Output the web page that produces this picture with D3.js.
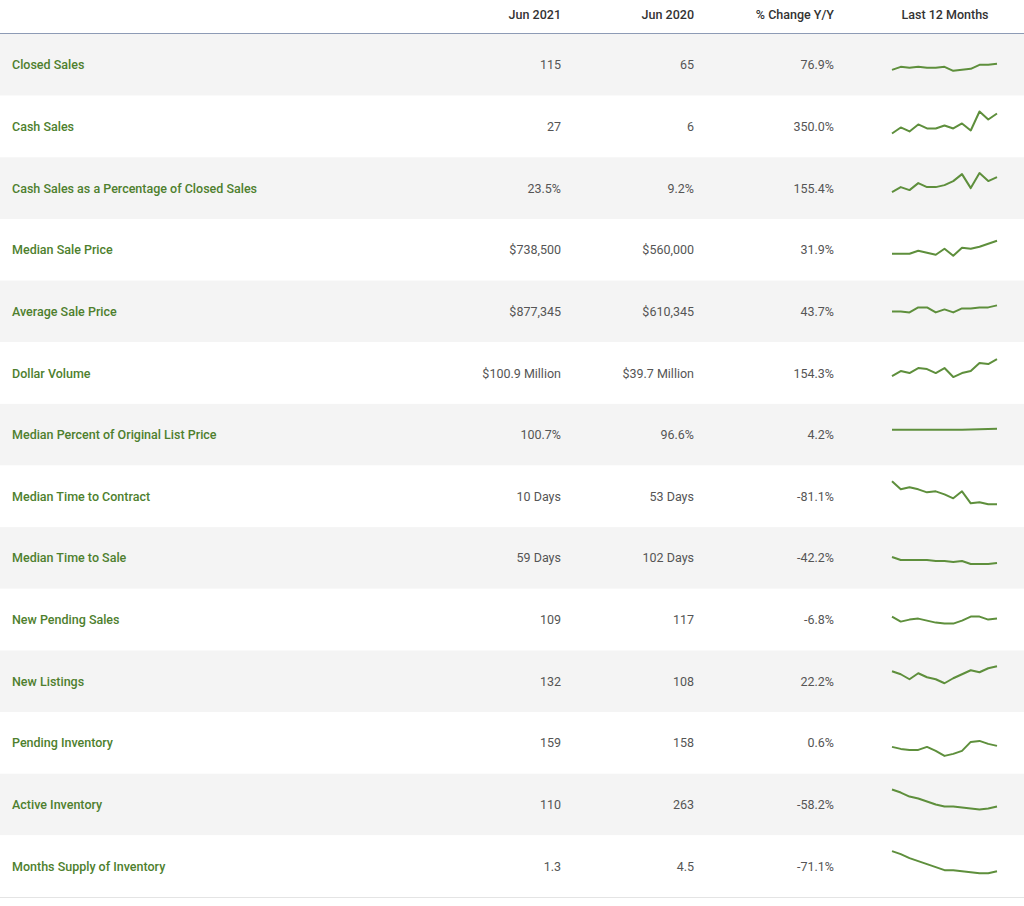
<!DOCTYPE html>
<html><head><meta charset="utf-8">
<script src="https://cdn.jsdelivr.net/npm/d3@7"></script>
<style>body{margin:0;background:#fff}</style></head>
<body><svg id="c" width="1024" height="906"></svg>
<script>
const headers = ["Jun 2021","Jun 2020","% Change Y/Y","Last 12 Months"];
const metrics = ["Closed Sales","Cash Sales","Cash Sales as a Percentage of Closed Sales","Median Sale Price","Average Sale Price","Dollar Volume","Median Percent of Original List Price","Median Time to Contract","Median Time to Sale","New Pending Sales","New Listings","Pending Inventory","Active Inventory","Months Supply of Inventory"];
const jun2021 = ["115","27","23.5%","$738,500","$877,345","$100.9 Million","100.7%","10 Days","59 Days","109","132","159","110","1.3"];
const jun2020 = ["65","6","9.2%","$560,000","$610,345","$39.7 Million","96.6%","53 Days","102 Days","117","108","158","263","4.5"];
const pctChange = ["76.9%","350.0%","155.4%","31.9%","43.7%","154.3%","4.2%","-81.1%","-42.2%","-6.8%","22.2%","0.6%","-58.2%","-71.1%"];
// trend index values (relative), 13 months
const trends = [
 [-5,-2,-3,-2,-3,-3,-2,-6,-5,-4,0,0,1],
 [-7,-1,-5,2,-2,-2,1,-2,3,-4,15,7,13],
 [-4,1,-2,5,1,1,3,7,14,0,15,7,11],
 [-4,-4,-4,-1,-3,-5,1,-6,2,1,3,6,9],
 [0,0,-1,4,4,-1,2,-1,3,3,4,4,6],
 [-3,2,0,5,4,0,5,-4,0,2,10,9,14],
 [5,5,5,5,5,5,5,5,5,5.3,5.5,5.7,6],
 [15,7,9,7,4,5,2,-2,5,-7,-6,-8,-8],
 [1,-2,-2,-2,-2,-3,-3,-4,-3,-6,-6,-6,-5],
 [3,-2,0,1,-1,-3,-4,-4,-1,3,3,0,1],
 [10,7,2,8,4,2,-2,3,7,11,9,13,15],
 [-4,-6,-7,-7,-4,-8,-13,-11,-8,1,2,-1,-3],
 [15,12,8,6,3,0,-2,-2,-3,-4,-5,-4,-2],
 [15,12,8,5,2,-1,-4,-4,-5,-6,-7,-7,-5]
];
const svg = d3.select("#c");
const font = "Roboto, sans-serif";
const headH = 34, W = 1024;
const y = d3.scaleBand().domain(d3.range(metrics.length)).range([headH, 897]);
const colRight = [561, 694, 834];
svg.append("line").attr("x1",0).attr("x2",W).attr("y1",33.5).attr("y2",33.5).attr("stroke","#8d9bb5").attr("stroke-width",1.2);
headers.forEach((h,i)=>{
  svg.append("text").attr("x", i<3?colRight[i]:945).attr("y",19)
    .attr("text-anchor", i<3?"end":"middle").attr("font-family",font)
    .attr("font-size",12.5).attr("font-weight",500).attr("fill","#333").text(h);
});
const rows = svg.selectAll("g.r").data(metrics).join("g").attr("transform",(d,i)=>`translate(0,${y(i)})`);
rows.append("rect").attr("width",W).attr("height",y.bandwidth()).attr("fill",(d,i)=>i%2===0?"#f4f4f4":"#fff");
const bh = y.bandwidth(), mid = bh/2 + 4.5;
rows.append("text").attr("x",12).attr("y",mid).attr("font-family",font).attr("font-size",12.5)
  .attr("font-weight",500).attr("fill","#4e7f2e").text(d=>d);
[jun2021,jun2020,pctChange].forEach((arr,c)=>{
  rows.append("text").attr("x",colRight[c]).attr("y",mid).attr("text-anchor","end")
    .attr("font-family",font).attr("font-size",12.5).attr("fill","#555").text((d,i)=>arr[i]);
});
const sx = d3.scaleLinear().domain([0,12]).range([892,997]);
const sy = d3.scaleLinear().domain([-20,20]).range([bh/2+20, bh/2-20]);
const line = d3.line().x((d,i)=>sx(i)).y(d=>sy(d));
rows.append("path").attr("d",(d,i)=>line(trends[i])).attr("fill","none")
  .attr("stroke","#5e8f3c").attr("stroke-width",2).attr("stroke-linejoin","round");
svg.append("line").attr("x1",0).attr("x2",W).attr("y1",897.5).attr("y2",897.5).attr("stroke","#e4e4e4");
</script></body></html>
